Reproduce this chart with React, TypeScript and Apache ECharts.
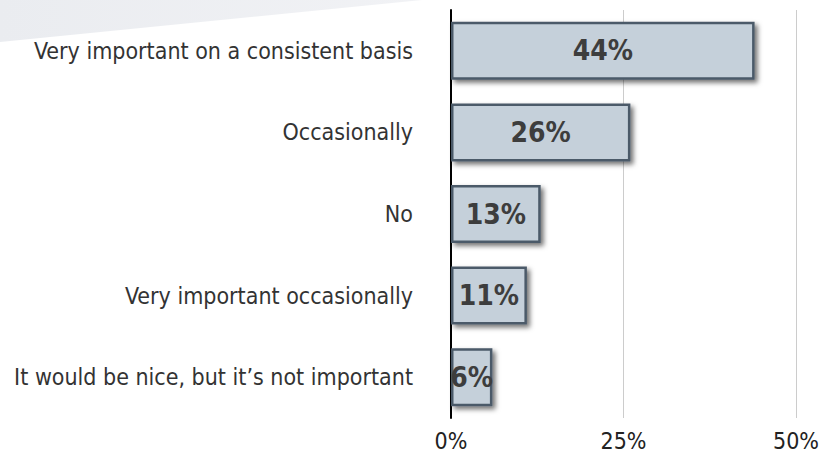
import React, { useEffect, useRef } from "react";
import * as echarts from "echarts";

const categories = [
  "Very important on a consistent basis",
  "Occasionally",
  "No",
  "Very important occasionally",
  "It would be nice, but it’s not important",
];
const values = [44, 26, 13, 11, 6];
const xTicks = [0, 25, 50];

const condensed = "DejaVu Sans Condensed, sans-serif";

export default function App() {
  const ref = useRef<HTMLDivElement>(null);
  useEffect(() => {
    const chart = echarts.init(ref.current!, null, { renderer: "svg" });
    chart.setOption({
      animation: false,
      backgroundColor: "#ffffff",
      graphic: [
        {
          type: "polygon",
          shape: { points: [[0, 0], [422, 0], [0, 42]] },
          style: {
            fill: new echarts.graphic.LinearGradient(0, 0, 1, 0, [
              { offset: 0, color: "#eaecf0" },
              { offset: 1, color: "#f1f2f5" },
            ]),
          },
          z: -10,
        },
      ],
      grid: { left: 451, right: 23, top: 10, bottom: 42 },
      xAxis: {
        type: "value",
        min: xTicks[0],
        max: xTicks[xTicks.length - 1],
        interval: 25,
        axisLine: { show: false },
        axisTick: { show: false },
        splitLine: { show: true, lineStyle: { color: "#cccccc", width: 1 } },
        axisLabel: {
          formatter: (v: number) => v + "%",
          fontFamily: condensed,
          fontSize: 23,
          color: "#222222",
          margin: 11,
        },
      },
      yAxis: {
        type: "category",
        data: categories,
        inverse: true,
        axisLine: { show: true, lineStyle: { color: "#000000", width: 2 } },
        axisTick: { show: false },
        axisLabel: {
          fontFamily: condensed,
          fontSize: 23,
          color: "#333333",
          margin: 38,
        },
      },
      series: [
        {
          type: "bar",
          data: values,
          barWidth: 58,
          itemStyle: {
            color: "#c5d0da",
            borderColor: "#4b5a69",
            borderWidth: 2.5,
            shadowBlur: 5,
            shadowOffsetX: 3,
            shadowOffsetY: 3,
            shadowColor: "rgba(0,0,0,0.55)",
          },
          label: {
            show: true,
            position: "inside",
            formatter: (p: any) => p.value + "%",
            fontFamily: condensed,
            fontWeight: "bold",
            fontSize: 28,
            color: "#3d3d3d",
          },
        },
      ],
    });
    return () => chart.dispose();
  }, []);
  return (
    <div
      ref={ref}
      style={{ position: "fixed", left: 0, top: 0, width: 822, height: 460 }}
    />
  );
}
